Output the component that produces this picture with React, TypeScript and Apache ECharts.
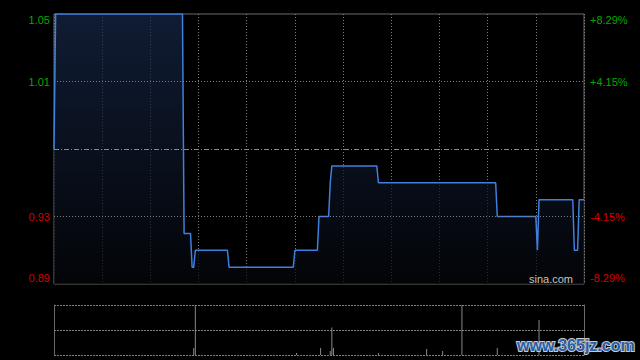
import React, { useEffect, useRef } from "react";
import * as echarts from "echarts";

// Minute index (0 = 9:30, 330 = 16:00) where the price changes, and the price there
const priceMinutes = [0, 1, 80, 81, 85, 86, 87, 88, 108, 109, 149, 150, 164, 165, 171, 172, 173, 201, 202, 275, 276, 300, 301, 302, 323, 324, 326, 327, 330];
const priceValues = [0.97, 1.05, 1.05, 0.92, 0.92, 0.9, 0.9, 0.91, 0.91, 0.9, 0.9, 0.91, 0.91, 0.93, 0.93, 0.95, 0.96, 0.96, 0.95, 0.95, 0.93, 0.93, 0.91, 0.94, 0.94, 0.91, 0.91, 0.94, 0.94];

// Volume bars (relative heights)
const volumeMinutes = [87, 88, 151, 166, 172, 173, 174, 202, 232, 242, 254, 276, 302];
const volumeValues = [14, 100, 4, 14, 8, 55, 14, 4, 12, 8, 100, 14, 70];

const prevClose = 0.97;
const priceTicks = [0.89, 0.93, 0.97, 1.01, 1.05];
const priceTickLabels = ["0.89", "0.93", "", "1.01", "1.05"];
const percentTickLabels = ["-8.29%", "-4.15%", "", "+4.15%", "+8.29%"];

const GREEN = "#00a800";
const RED = "#d40000";

export default function App() {
  const ref = useRef<HTMLDivElement>(null);
  useEffect(() => {
    const chart = echarts.init(ref.current!, null, { renderer: "svg" });
    const priceData = priceMinutes.map((m, i) => [m, priceValues[i]]);
    const volData = volumeMinutes.map((m, i) => [m, volumeValues[i]]);
    const font = "Liberation Sans, Arial, sans-serif";
    const keyFor = (i: number) =>
      i === priceTicks.length - 1 ? "top" : i === 0 ? "bot" : priceTicks[i] > prevClose ? "up" : "dn";
    const leftFormatter = (_v: number, i: number) => {
      const t = priceTickLabels[i] ?? "";
      return t ? `{${keyFor(i)}|${t}}` : "";
    };
    const rightFormatter = (_v: number, i: number) => {
      const t = percentTickLabels[i] ?? "";
      return t ? `{${keyFor(i)}|${t}}` : "";
    };
    const rich = {
      top: { color: GREEN, fontSize: 11, fontFamily: font, padding: [11, 0, 0, 0] },
      up: { color: GREEN, fontSize: 11, fontFamily: font },
      dn: { color: RED, fontSize: 11, fontFamily: font },
      bot: { color: RED, fontSize: 11, fontFamily: font, padding: [0, 0, 12, 0] },
    };
    chart.setOption({
      animation: false,
      backgroundColor: "#000",
      grid: [
        { left: 54, top: 14, width: 530, height: 270, show: true, borderColor: "#6a6a6a", borderWidth: 1, backgroundColor: "transparent" },
        { left: 54, top: 305, width: 530, height: 50, show: false },
      ],
      xAxis: [
        {
          type: "value", gridIndex: 0, min: 0, max: 330, interval: 30,
          axisLine: { show: false }, axisTick: { show: false }, axisLabel: { show: false },
          splitLine: { show: true, lineStyle: { color: "#808080", type: [1, 2], width: 1 } },
        },
        {
          type: "value", gridIndex: 1, min: 0, max: 330, interval: 30,
          axisLine: { show: false }, axisTick: { show: false }, axisLabel: { show: false },
          splitLine: { show: false },
        },
      ],
      yAxis: [
        {
          type: "value", gridIndex: 0, position: "left", min: 0.89, max: 1.05, interval: 0.04,
          axisLine: { show: false }, axisTick: { show: false }, splitLine: { show: false },
          axisLabel: { margin: 4, formatter: leftFormatter, rich },
        },
        {
          type: "value", gridIndex: 0, position: "right", min: 0.89, max: 1.05, interval: 0.04,
          axisLine: { show: false }, axisTick: { show: false }, splitLine: { show: false },
          axisLabel: { margin: 6, formatter: rightFormatter, rich },
        },
        {
          type: "value", gridIndex: 1, position: "left", min: 0, max: 100, interval: 50,
          axisLine: { show: true, lineStyle: { color: "#6a6a6a", width: 1 } },
          axisTick: { show: false }, axisLabel: { show: false },
          splitLine: { show: true, lineStyle: { color: "#808080", type: [2, 1], width: 1 } },
        },
        {
          type: "value", gridIndex: 1, position: "right", min: 0, max: 100, interval: 50,
          axisLine: { show: true, lineStyle: { color: "#6a6a6a", width: 1 } },
          axisTick: { show: false }, axisLabel: { show: false }, splitLine: { show: false },
        },
      ],
      series: [
        {
          type: "line", xAxisIndex: 0, yAxisIndex: 0, data: priceData,
          symbol: "none", lineStyle: { color: "#3f7fe0", width: 1.5 },
          areaStyle: {
            color: new echarts.graphic.LinearGradient(0, 0, 0, 1, [
              { offset: 0, color: "#172849" },
              { offset: 1, color: "#04060b" },
            ]),
          },
          markLine: {
            silent: true, symbol: "none", label: { show: false },
            data: [
              { yAxis: 1.01, lineStyle: { color: "#808080", type: [1, 2], width: 1 } },
              { yAxis: 0.93, lineStyle: { color: "#808080", type: [1, 2], width: 1 } },
              { yAxis: prevClose, lineStyle: { color: "#8a8a8a", type: [5, 2, 1, 2], width: 1 } },
            ],
          },
        },
        {
          type: "bar", xAxisIndex: 1, yAxisIndex: 2, data: volData,
          barWidth: 1, itemStyle: { color: "#8a8a8a" },
        },
      ],
      graphic: [
        {
          type: "text", right: 67, top: 273, z: 100,
          style: { text: "sina.com", fill: "#c4c4c4", font: "11px Liberation Sans, Arial, sans-serif" },
        },
        {
          type: "text", left: 516, top: 336, z: 100,
          style: {
            text: "www.365jz.com", fill: "#2b5ea8", stroke: "#c8c8c8", lineWidth: 2,
            font: "bold 16px Liberation Sans, Arial, sans-serif",
          },
        },
      ],
    });
    return () => chart.dispose();
  }, []);
  return (
    <div
      ref={ref}
      style={{ position: "absolute", left: 0, top: 0, width: 640, height: 360, background: "#000" }}
    />
  );
}
